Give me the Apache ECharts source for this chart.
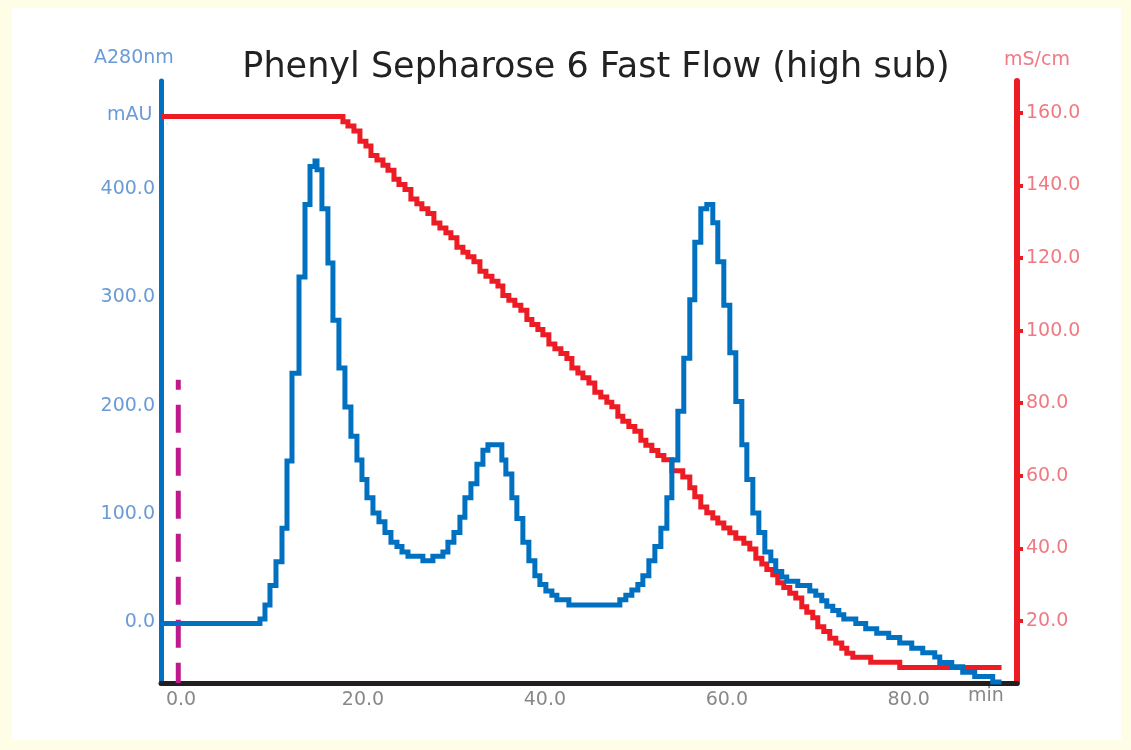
<!DOCTYPE html>
<html>
<head>
<meta charset="utf-8">
<script src="https://cdn.jsdelivr.net/npm/echarts@6/dist/echarts.min.js"></script>
<style>
  html, body { margin: 0; padding: 0; background: #fefee6; }
  .panel { position: absolute; left: 12px; top: 8px; right: 10px; bottom: 10px; background: #fff; }
  #main { position: absolute; left: 0; top: 0; width: 1131px; height: 750px; }
</style>
</head>
<body>
<div class="panel"></div>
<div id="main"></div>
<script>
// UV A280 trace [min, mAU] (step curve)
const a280 = [
  [-2.2, -1], [8.68, 3], [9.23, 16], [9.78, 34], [10.44, 56], [11.10, 87], [11.65, 149],
  [12.20, 230], [12.97, 319], [13.63, 386], [14.18, 421], [14.73, 426], [14.95, 418],
  [15.49, 382], [16.15, 332], [16.70, 279], [17.36, 235], [18.02, 199], [18.68, 172],
  [19.34, 150], [19.89, 132], [20.44, 115], [21.10, 101], [21.76, 93], [22.42, 83],
  [23.08, 74], [23.74, 70], [24.29, 65], [24.95, 61], [26.59, 57], [27.69, 61], [28.79, 65],
  [29.34, 74], [30.00, 83], [30.66, 97], [31.21, 115], [31.87, 128], [32.53, 146],
  [33.19, 159], [33.74, 164], [35.27, 150], [35.71, 137], [36.37, 115], [36.92, 96],
  [37.58, 74], [38.24, 57], [38.90, 43], [39.45, 35], [40.11, 29], [40.77, 25], [41.32, 21],
  [42.64, 16], [48.24, 21], [48.90, 25], [49.56, 30], [50.22, 35], [50.77, 43], [51.43, 57],
  [52.09, 70], [52.75, 87], [53.41, 115], [53.96, 150], [54.62, 195], [55.27, 244],
  [55.93, 298], [56.48, 351], [57.14, 382], [57.80, 386], [58.46, 369], [59.01, 333],
  [59.67, 293], [60.33, 249], [60.99, 204], [61.65, 164], [62.20, 132], [62.86, 101],
  [63.52, 83], [64.18, 65], [64.84, 57], [65.38, 47], [66.04, 42], [66.59, 38], [67.80, 34],
  [69.12, 29], [69.78, 25], [70.44, 20], [70.99, 15], [71.65, 11], [72.31, 7], [72.86, 3],
  [74.18, -1], [75.27, -6], [76.48, -10], [77.80, -14], [79.01, -19], [80.33, -24],
  [81.54, -28], [82.86, -32], [83.41, -37], [84.73, -41], [85.93, -46], [87.25, -50],
  [89.23, -55], [90.2, -55]
];

// conductivity trace [min, mS/cm]
const cond = [
  [-2.2, 159.0], [17.80, 157.6], [18.35, 156.4], [19.01, 155.0], [19.67, 152.2], [20.33, 150.9],
  [20.88, 148.3], [21.54, 147.0], [22.20, 145.6], [22.75, 144.2], [23.41, 141.7], [23.96, 140.3],
  [24.62, 138.9], [25.27, 136.3], [25.93, 135.0], [26.48, 133.6], [27.14, 132.3], [27.80, 129.7],
  [28.46, 128.3], [29.12, 127.0], [29.67, 125.6], [30.33, 123.0], [30.99, 121.6], [31.54, 120.4],
  [32.20, 119.0], [32.86, 116.4], [33.52, 115.0], [34.18, 113.6], [34.84, 112.3], [35.38, 109.7],
  [36.04, 108.4], [36.70, 107.0], [37.36, 105.6], [38.02, 103.1], [38.57, 101.7], [39.23, 100.3],
  [39.78, 98.9], [40.44, 96.3], [41.10, 95.0], [41.76, 93.7], [42.42, 92.3], [42.97, 89.7],
  [43.63, 88.3], [44.18, 87.0], [44.84, 85.6], [45.49, 83.0], [46.15, 81.7], [46.81, 80.3],
  [47.36, 79.0], [48.02, 76.4], [48.57, 75.0], [49.23, 73.6], [49.89, 72.3], [50.55, 69.8],
  [51.10, 68.4], [51.76, 67.0], [52.42, 65.6], [53.08, 64.4], [53.96, 61.4], [55.16, 59.7],
  [55.93, 56.7], [56.48, 54.2], [57.14, 51.4], [57.80, 49.8], [58.46, 48.4], [59.01, 47.0],
  [59.67, 45.6], [60.33, 44.3], [60.99, 42.8], [61.87, 41.4], [62.53, 39.8], [63.19, 37.3],
  [63.85, 35.7], [64.40, 34.2], [65.05, 32.7], [65.60, 30.5], [66.26, 29.2], [66.92, 27.6],
  [67.58, 26.3], [68.24, 23.9], [68.79, 22.4], [69.45, 20.9], [70.00, 18.4], [70.66, 17.1],
  [71.32, 15.2], [71.98, 13.9], [72.64, 12.5], [73.19, 11.1], [73.85, 10.0], [75.82, 8.6],
  [79.01, 7.2], [90.2, 7.2]
];

// injection mark (dashed)
const injection = [[-0.3, 224], [-0.3, -56]];

const timeTicks = [0, 20, 40, 60, 80];
const absTicks = [0, 100, 200, 300, 400];
const condTicks = [20, 40, 60, 80, 100, 120, 140, 160];

const blue = '#0070c0';
const red = '#ed1c24';
const labelFont = 'DejaVu Sans';
const blueText = '#6a9bd6';
const redText = '#ef7a82';
const greyText = '#888888';

const chart = echarts.init(document.getElementById('main'));
chart.setOption({
  animation: false,
  title: {
    text: 'Phenyl Sepharose 6 Fast Flow (high sub)',
    left: 591,
    top: 45,
    textAlign: 'center',
    textStyle: { fontFamily: labelFont, fontSize: 35, fontWeight: 'normal', color: '#222' }
  },
  grid: { left: 161, right: 114, top: 81, bottom: 67 },
  xAxis: {
    type: 'value',
    min: -2.2,
    max: 91.9,
    splitLine: { show: false },
    axisLine: { onZero: false, lineStyle: { color: '#231f20', width: 5 } },
    axisTick: { show: false },
    axisLabel: {
      customValues: timeTicks,
      formatter: v => v.toFixed(1),
      margin: 8,
      color: greyText,
      fontFamily: labelFont,
      fontSize: 19
    }
  },
  yAxis: [
    {
      type: 'value',
      min: -56,
      max: 500,
      position: 'left',
      splitLine: { show: false },
      axisLine: { show: true, onZero: false, lineStyle: { color: blue, width: 5 } },
      axisTick: { show: false },
      axisLabel: {
        customValues: absTicks,
        formatter: v => v.toFixed(1),
        margin: 6,
        color: blueText,
        fontFamily: labelFont,
        fontSize: 19
      }
    },
    {
      type: 'value',
      min: 2.9,
      max: 168.8,
      position: 'right',
      splitLine: { show: false },
      axisLine: { show: true, onZero: false, lineStyle: { color: red, width: 6 } },
      axisTick: { show: true, customValues: condTicks, length: 6, lineStyle: { color: red, width: 4 } },
      axisLabel: {
        customValues: condTicks,
        formatter: v => v.toFixed(1),
        margin: 9,
        color: redText,
        fontFamily: labelFont,
        fontSize: 19
      }
    }
  ],
  graphic: [
    { type: 'text', left: 94, top: 49, style: { text: 'A280nm', fill: blueText, font: '19px DejaVu Sans' } },
    { type: 'text', left: 107, top: 106, style: { text: 'mAU', fill: blueText, font: '19px DejaVu Sans' } },
    { type: 'text', left: 1004, top: 51, style: { text: 'mS/cm', fill: redText, font: '19px DejaVu Sans' } },
    { type: 'text', left: 968, top: 687, style: { text: 'min', fill: greyText, font: '19px DejaVu Sans' } }
  ],
  series: [
    {
      name: 'conductivity',
      type: 'line',
      yAxisIndex: 1,
      step: 'end',
      showSymbol: false,
      symbol: 'none',
      data: cond,
      lineStyle: { color: red, width: 5, join: 'miter', cap: 'butt' },
      z: 2
    },
    {
      name: 'injection',
      type: 'line',
      yAxisIndex: 0,
      showSymbol: false,
      symbol: 'none',
      data: injection,
      lineStyle: { color: '#bf1a8c', width: 5, type: [28, 15], dashOffset: 18, cap: 'butt' },
      z: 3
    },
    {
      name: 'A280',
      type: 'line',
      yAxisIndex: 0,
      step: 'end',
      showSymbol: false,
      symbol: 'none',
      data: a280,
      lineStyle: { color: blue, width: 5, join: 'miter', cap: 'butt' },
      z: 4
    }
  ]
});
</script>
</body>
</html>
